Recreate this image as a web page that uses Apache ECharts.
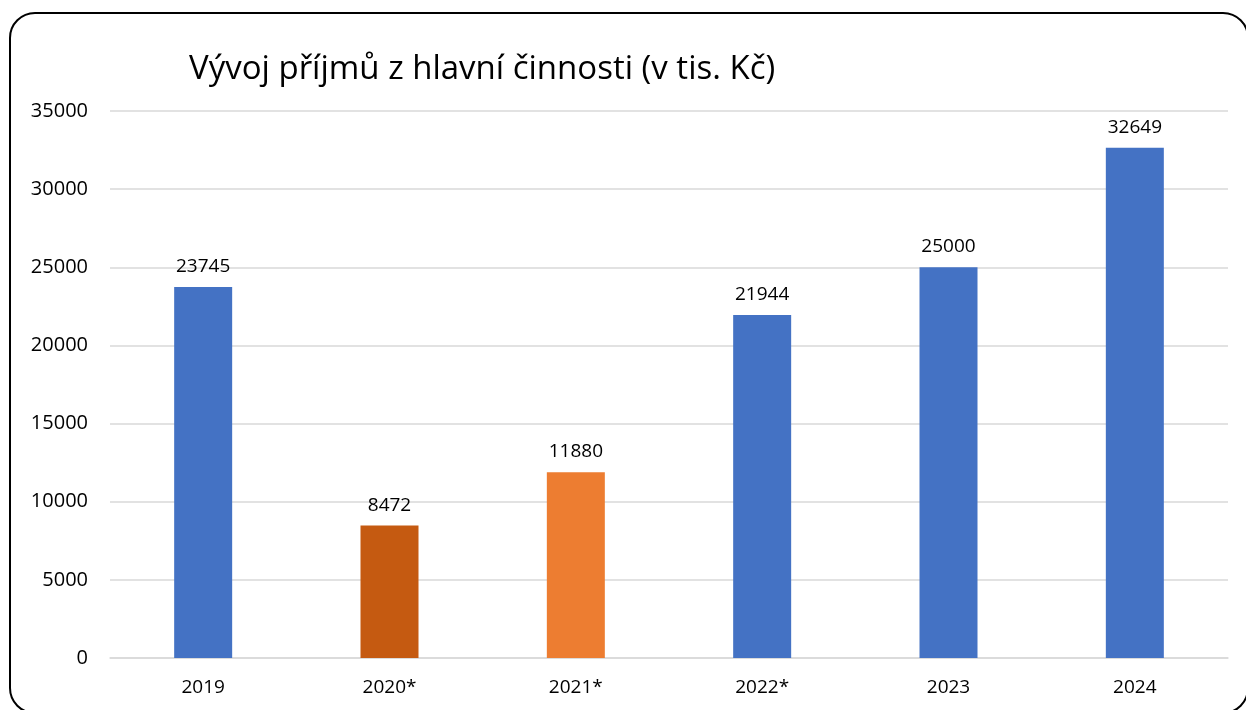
<!DOCTYPE html>
<html>
<head>
<meta charset="utf-8">
<script src="https://cdn.jsdelivr.net/npm/echarts@6/dist/echarts.min.js"></script>
<style>
  html, body { margin: 0; padding: 0; background: #fff; overflow: hidden; }
  #frame {
    position: absolute; left: 9px; top: 12px; width: 1240px; height: 702px;
    border: 2px solid #000; border-radius: 26px; box-sizing: border-box;
  }
  #chart { position: absolute; left: 0; top: 0; width: 1246px; height: 710px; }
</style>
</head>
<body>
<div id="frame"></div>
<div id="chart"></div>
<script>
  // data
  const years = ['2019', '2020*', '2021*', '2022*', '2023', '2024']
  const income = [23745, 8472, 11880, 21944, 25000, 32649]
  const barColors = ['#4472C4', '#C55A11', '#ED7D31', '#4472C4', '#4472C4', '#4472C4']

  const chart = echarts.init(document.getElementById('chart'))
  const font = '"Open Sans", "Noto Sans", sans-serif'

  chart.setOption({
    animation: false,
    title: {
      text: 'Vývoj příjmů z hlavní činnosti (v tis. Kč)',
      left: 184,
      top: 48,
      textStyle: { fontFamily: font, fontSize: 33, fontWeight: 'normal', color: '#000' }
    },
    grid: { left: 110, right: 18, top: 111, bottom: 52 },
    xAxis: {
      type: 'category',
      data: years,
      axisTick: { show: false },
      axisLine: { lineStyle: { color: '#d9d9d9', width: 1.5 } },
      axisLabel: { color: '#000', fontFamily: font, fontSize: 19, margin: 20 }
    },
    yAxis: {
      type: 'value',
      min: 0,
      max: 35000,
      interval: 5000,
      axisLine: { show: false },
      axisTick: { show: false },
      splitLine: { lineStyle: { color: '#d9d9d9', width: 1.5 } },
      axisLabel: {
        color: '#000', fontFamily: font, fontSize: 20, margin: 22,
        formatter: v => String(v)
      }
    },
    series: [{
      type: 'bar',
      barWidth: 58,
      data: income.map((v, i) => ({ value: v, itemStyle: { color: barColors[i] } })),
      label: {
        show: true,
        position: 'top',
        distance: 11,
        color: '#000',
        fontFamily: font,
        fontSize: 19
      }
    }]
  })
</script>
</body>
</html>
